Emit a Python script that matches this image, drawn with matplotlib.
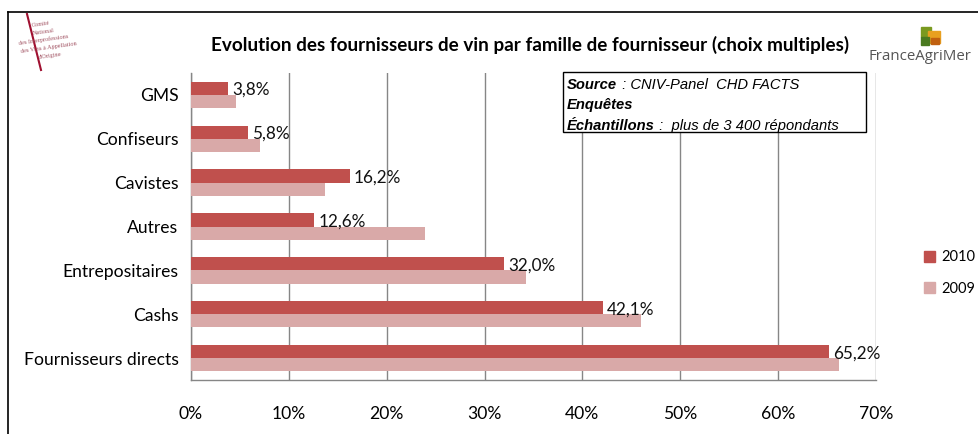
import matplotlib
matplotlib.use("Agg")
import matplotlib.pyplot as plt
from matplotlib.lines import Line2D
from matplotlib.patches import Rectangle

plt.rcParams['font.family'] = ['Lato', 'DejaVu Sans']

# data
categories = ["Fournisseurs directs", "Cashs", "Entrepositaires", "Autres",
              "Cavistes", "Confiseurs", "GMS"]
values_2010 = [65.2, 42.1, 32.0, 12.6, 16.2, 5.8, 3.8]
values_2009 = [66.2, 46.0, 34.2, 23.9, 13.7, 7.0, 4.6]
labels_2010 = ["65,2%", "42,1%", "32,0%", "12,6%", "16,2%", "5,8%", "3,8%"]
xticks = [0, 10, 20, 30, 40, 50, 60, 70]
xtick_labels = ["0%", "10%", "20%", "30%", "40%", "50%", "60%", "70%"]

c2010 = "#C0504D"
c2009 = "#D9A9A8"

fig = plt.figure(figsize=(9.79, 4.34), dpi=100)
ax = fig.add_axes([191 / 979, 54 / 434, 685 / 979, 307 / 434])

h = 0.3
ypos = list(range(len(categories)))
ax.barh([y + h / 2 for y in ypos], values_2010, height=h, color=c2010,
        label="2010", zorder=3)
ax.barh([y - h / 2 for y in ypos], values_2009, height=h, color=c2009,
        label="2009", zorder=3)

for y, v, lab in zip(ypos, values_2010, labels_2010):
    ax.text(v + 0.4, y + h / 2 - 0.04, lab, va="center", ha="left",
            fontsize=12.3, color="#111111", zorder=4)

ax.set_ylim(-0.5, len(categories) - 0.5)
ax.set_xlim(0, 70)
ax.set_yticks(ypos)
ax.set_yticklabels(categories, fontsize=12.6)
ax.set_xticks(xticks)
ax.set_xticklabels(xtick_labels, fontsize=12.6)
ax.tick_params(axis="y", length=0, pad=9)
ax.tick_params(axis="x", length=0, pad=19)
ax.grid(axis="x", color="#868686", linewidth=1, zorder=0)
ax.spines["top"].set_visible(False)
ax.spines["right"].set_visible(False)
for s in ["left", "bottom"]:
    ax.spines[s].set_color("#868686")
    ax.spines[s].set_linewidth(1)

# title
fig.text(530 / 979, 1 - 45 / 434,
         "Evolution des fournisseurs de vin par famille de fournisseur (choix multiples)",
         ha="center", va="center", fontsize=13.6, fontweight="bold")

# source box
box = Rectangle((563 / 979, 1 - 132 / 434), 303 / 979, 60 / 434,
                transform=fig.transFigure, facecolor="white",
                edgecolor="black", linewidth=1, zorder=5)
fig.add_artist(box)
src_font = dict(family="Liberation Sans", fontsize=10.6, style="italic",
                transform=fig.transFigure, va="center", ha="left", zorder=6)
fig.text(567 / 979, 1 - 85 / 434, "Source", fontweight="bold", **src_font)
fig.text(618 / 979, 1 - 85 / 434, " : CNIV-Panel  CHD FACTS", **src_font)
fig.text(567 / 979, 1 - 105 / 434, "Enquêtes", fontweight="bold", **src_font)
fig.text(567 / 979, 1 - 126 / 434, "Échantillons", fontweight="bold", **src_font)
fig.text(655 / 979, 1 - 126 / 434, " :  plus de 3 400 répondants", **src_font)

# legend
fig.legend(handles=[Rectangle((0, 0), 1, 1, color=c2010),
                    Rectangle((0, 0), 1, 1, color=c2009)],
           labels=["2010", "2009"], loc="center left",
           bbox_to_anchor=(924 / 979, 1 - 273 / 434), frameon=False,
           fontsize=10.5, handlelength=0.75, handleheight=0.75,
           handletextpad=0.45, labelspacing=1.2, borderpad=0, borderaxespad=0)

# outer frame
fig.add_artist(Line2D([8 / 979, 1], [1 - 12 / 434, 1 - 12 / 434],
                      transform=fig.transFigure, color="black", linewidth=1.2))
fig.add_artist(Line2D([8 / 979, 8 / 979], [0, 1 - 12 / 434],
                      transform=fig.transFigure, color="black", linewidth=1.2))

# CNIV logo
fig.add_artist(Line2D([27 / 979, 41 / 979], [1 - 14 / 434, 1 - 70 / 434],
                      transform=fig.transFigure, color="#a01030", linewidth=1.5))
logo_lines = [("Comité", 31, 24), ("National", 32, 32), ("des Interprofessions", 18, 40),
              ("des Vins à Appellation", 20, 48), ("d'Origine", 38, 56)]
for txt, lx, ly in logo_lines:
    fig.text(lx / 979, 1 - ly / 434, txt, fontsize=4.5, color="#a05060",
             family="Liberation Serif", rotation=8, va="center", ha="left")

# FranceAgriMer logo
fig.text(920 / 979, 1 - 57 / 434, "FranceAgriMer", ha="center", va="center",
         fontsize=10.8, color="#555555", family="Open Sans")
for (rx, ry, rw, rh, col) in [(921, 27, 10, 10, "#7a9a20"), (928, 31, 12, 12, "#e8a020"),
                               (921, 37, 8, 8, "#4a7a20"), (931, 38, 8, 6, "#c06010")]:
    fig.add_artist(Rectangle((rx / 979, 1 - (ry + rh) / 434), rw / 979, rh / 434,
                             transform=fig.transFigure, color=col, zorder=5))

fig.savefig("out.png", dpi=100)
